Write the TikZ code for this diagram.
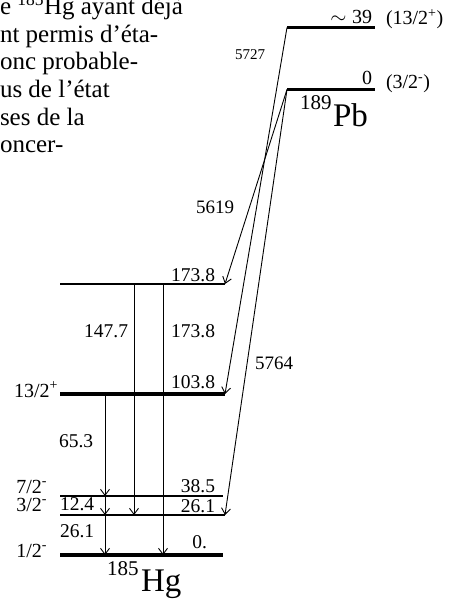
\documentclass[tikz,border=0pt]{standalone}
\usepackage{fontspec}
\setmainfont{Liberation Serif}
\usetikzlibrary{arrows.meta}
\begin{document}
\begin{tikzpicture}[x=1pt,y=-1pt,
  every node/.style={inner sep=0pt, outer sep=0pt},
  lvthin/.style={line width=1.2pt},
  lvthick/.style={line width=3.3pt},
  trans/.style={line width=0.9pt,-{Straight Barb[length=6pt,width=9pt,line width=0.9pt]}},
  lab/.style={font=\fontsize{19.5}{22}\selectfont},
  spin/.style={font=\fontsize{20}{22}\selectfont},
  spinpb/.style={font=\fontsize{20}{22}\selectfont},
  gam/.style={font=\fontsize{19}{22}\selectfont},
  gamsmall/.style={font=\fontsize{15}{18}\selectfont},
  body/.style={font=\fontsize{25}{30}\selectfont, anchor=base west},
  nuc/.style={font=\fontsize{33}{38}\selectfont, anchor=base west},
  nucmass/.style={font=\fontsize{21}{24}\selectfont, anchor=base west},
]
\clip (0,0) rectangle (456,599);

% running text (cut paragraph)
\node[body] (t1) at (0,15) {e \textsuperscript{185}Hg ayant déjà};
\node[body] (t2) at (0,42.5) {nt permis d’éta-};
\node[body] (t3) at (0,70) {onc probable-};
\node[body] (t4) at (0,97.5) {us de l’état};
\node[body] (t5) at (0,125) {ses de la};
\node[body] (t6) at (0,152.5) {oncer-};

% level end points
\coordinate (pbAw) at (287,27.5);  \coordinate (pbAe) at (375,27.5);
\coordinate (pbBw) at (287,89.5);  \coordinate (pbBe) at (375,89.5);
\coordinate (h174w) at (60,284);   \coordinate (h174e) at (225,284);
\coordinate (h104w) at (60,394);   \coordinate (h104e) at (225,394);
\coordinate (h385w) at (60,496);   \coordinate (h385e) at (223,496);
\coordinate (h261w) at (60,515);   \coordinate (h261e) at (225,515);
\coordinate (h0w) at (60,555);     \coordinate (h0e) at (223,555);
\coordinate (ca) at (105,0);
\coordinate (cb) at (134,0);
\coordinate (cc) at (163,0);

% levels
\draw[lvthick] (pbAw) -- (pbAe);
\draw[lvthick] (pbBw) -- (pbBe);
\draw[lvthin]  (h174w) -- (h174e);
\draw[lvthick] (h104w) -- (h104e);
\draw[lvthin]  (h385w) -- (h385e);
\draw[lvthin]  (h261w) -- (h261e);
\draw[lvthick] (h0w) -- (h0e);

% gamma transitions
\draw[trans] (ca |- h104w) -- (ca |- h385w);
\draw[trans] (ca |- h385w) -- (ca |- h261w);
\draw[trans] (ca |- h261w) -- (ca |- h0w);
\draw[trans] (cb |- h174w) -- (cb |- h261w);
\draw[trans] (cc |- h174w) -- (cc |- h0w);

% alpha transitions
\draw[trans] (pbAw) -- (h104e);
\draw[trans] (pbBw) -- (h174e);
\draw[trans] (pbBw) -- (h261e);

% level energies (Hg)
\node[lab, anchor=base east] (e174) at (215,281) {173.8};
\node[lab, anchor=base east] (e104) at (215,388) {103.8};
\node[lab, anchor=base east] (e385) at (215,492) {38.5};
\node[lab, anchor=base east] (e261) at (215,512) {26.1};
\node[lab, anchor=base east] (e0) at (207,548) {0.};

% gamma energies
\node[lab, anchor=base east] (g1477) at (128,337) {147.7};
\node[lab, anchor=base east] (g1738) at (215,337) {173.8};
\node[lab, anchor=base west] (g653) at (59,447) {65.3};
\node[lab, anchor=base west] (g124) at (60,510) {12.4};
\node[lab, anchor=base west] (g261) at (60,537) {26.1};

% spins (Hg)
\node[spin, anchor=base east] (s132) at (58,397) {13/2\textsuperscript{+}};
\node[spin, anchor=base east] (s72) at (47,493) {7/2\textsuperscript{-}};
\node[spin, anchor=base east] (s32) at (47,511) {3/2\textsuperscript{-}};
\node[spin, anchor=base east] (s12) at (47,557) {1/2\textsuperscript{-}};

% Pb levels
\node[spin, anchor=base east] (e39) at (372,24) {$\sim$\;39};
\node[spin, anchor=base east] (e0pb) at (372,85) {0};
\node[spinpb, anchor=base west] (s132p) at (386,25) {(13/2\textsuperscript{+})};
\node[spinpb, anchor=base west] (s32p) at (386,89) {(3/2\textsuperscript{-})};

% alpha energies
\node[gamsmall] (k5727) at (250,55) {5727};
\node[gam] (k5619) at (215,207) {5619};
\node[gam] (k5764) at (274,363) {5764};

% nuclei
\node[nucmass] (pbm) at (300,110) {189};
\node[nuc] (pbn) at (333,127) {Pb};
\node[nucmass] (hgm) at (107,575) {185};
\node[nuc] (hgn) at (141,591) {Hg};
\end{tikzpicture}
\end{document}
